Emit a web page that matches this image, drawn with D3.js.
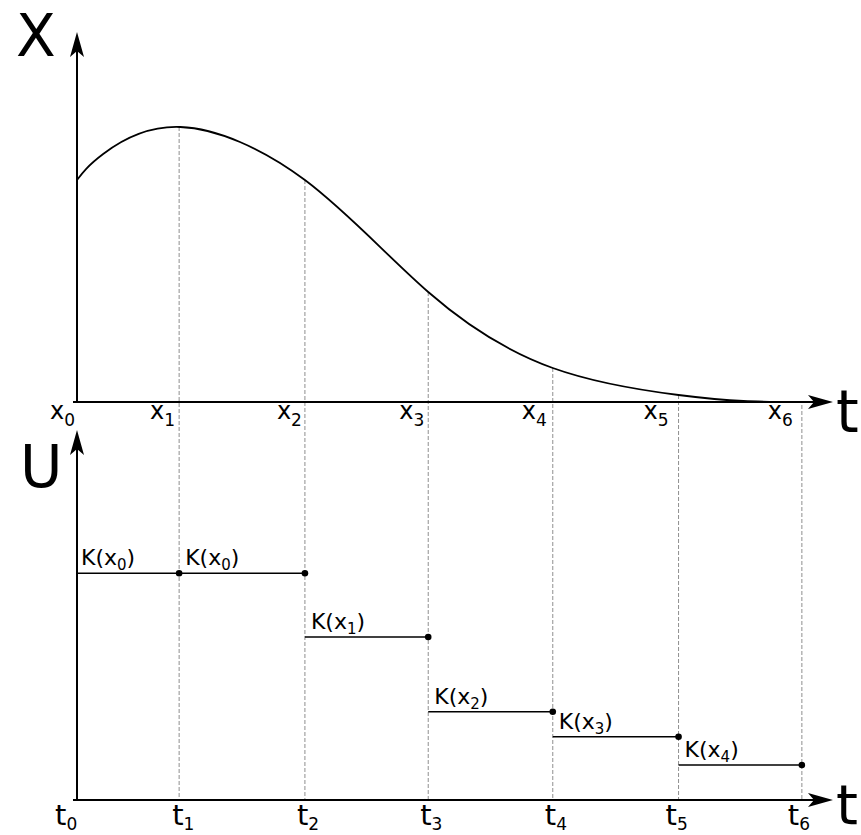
<!DOCTYPE html>
<html>
<head>
<meta charset="utf-8">
<script src="https://cdn.jsdelivr.net/npm/d3@7/dist/d3.min.js"></script>
<style>
  html, body { margin: 0; padding: 0; background: #fff; }
  svg { display: block; }
  text { font-family: "DejaVu Sans", sans-serif; fill: #000; }
</style>
</head>
<body>
<svg id="chart" width="861" height="835"></svg>
<script>
// Sampling instants t0..t6 (time units)
const knotTimes = [0, 0.82, 1.83, 2.82, 3.82, 4.83, 5.82];
// State x(t) at each sampling instant
const knotStates = [2.22, 2.75, 2.22, 1.10, 0.34, 0.07, 0.0];
// Continuous state trajectory x(t), sampled
const curveTimes  = [0, 0.21, 0.83, 1.83, 2.82, 3.82, 4.83, 5.35, 5.78];
const curveStates = [2.22, 2.48, 2.75, 2.22, 1.10, 0.34, 0.07, 0.01, 0.0];
// Zero-order-hold control: held value on each interval [t_i, t_i+1]
const controlValues = [2.267, 2.267, 1.63, 0.883, 0.633, 0.35];
// Which state sample each control value is computed from
const controlSource = [0, 0, 1, 2, 3, 4];

const svg = d3.select("#chart");

const tScale = d3.scaleLinear().domain([0, 6.07]).range([77, 833]);
const xScale = d3.scaleLinear().domain([0, 3.7]).range([402, 32]);
const uScale = d3.scaleLinear().domain([0, 3.7]).range([800, 430]);

// Dashed guide lines from the trajectory down to the control axis
svg.append("g")
  .selectAll("line")
  .data(knotTimes.slice(1))
  .join("line")
  .attr("x1", d => tScale(d))
  .attr("x2", d => tScale(d))
  .attr("y1", (d, i) => xScale(knotStates[i + 1]) + (knotStates[i + 1] === 0 ? 3 : 0))
  .attr("y2", uScale(0))
  .attr("stroke", "#8f8f8f")
  .attr("stroke-width", 1)
  .attr("stroke-dasharray", "4,2");

// Arrowheads with tip at origin
const arrowUp = "M0,0 L7,25 L0,19 L-7,25 Z";
const arrowRight = "M0,0 L-25,-7 L-19,0 L-25,7 Z";

function drawAxes(yScale, topY) {
  const g = svg.append("g");
  const x0 = tScale(0), y0 = yScale(0);
  const xEnd = tScale.range()[1];
  g.append("line")
    .attr("x1", x0).attr("x2", x0)
    .attr("y1", y0).attr("y2", topY + 10)
    .attr("stroke", "#000").attr("stroke-width", 2);
  g.append("line")
    .attr("x1", x0 - 4).attr("x2", xEnd - 10)
    .attr("y1", y0).attr("y2", y0)
    .attr("stroke", "#000").attr("stroke-width", 2);
  g.append("path").attr("d", arrowUp)
    .attr("transform", `translate(${x0},${topY})`).attr("fill", "#000");
  g.append("path").attr("d", arrowRight)
    .attr("transform", `translate(${xEnd},${y0})`).attr("fill", "#000");
}

drawAxes(xScale, xScale.range()[1]);
drawAxes(uScale, uScale.range()[1]);

// State trajectory
const line = d3.line()
  .x(d => tScale(d[0]))
  .y(d => xScale(Math.max(d[1], 0)))
  .curve(d3.curveNatural);

svg.append("path")
  .datum(curveTimes.map((t, i) => [t, curveStates[i]]))
  .attr("d", line)
  .attr("fill", "none")
  .attr("stroke", "#000")
  .attr("stroke-width", 1.8);

// Held control segments
const segs = controlValues.map((v, i) => ({
  t0: knotTimes[i], t1: knotTimes[i + 1], v, src: controlSource[i]
}));

svg.append("g")
  .selectAll("line")
  .data(segs)
  .join("line")
  .attr("x1", d => tScale(d.t0))
  .attr("x2", d => tScale(d.t1))
  .attr("y1", d => uScale(d.v))
  .attr("y2", d => uScale(d.v))
  .attr("stroke", "#000")
  .attr("stroke-width", 1.6);

svg.append("g")
  .selectAll("circle")
  .data(segs)
  .join("circle")
  .attr("cx", d => tScale(d.t1))
  .attr("cy", d => uScale(d.v))
  .attr("r", 3.3)
  .attr("fill", "#000");

// K(x_i) labels above each segment
const kLabels = svg.append("g")
  .selectAll("text")
  .data(segs)
  .join("text")
  .attr("x", (d, i) => tScale(d.t0) + (i === 0 ? 4 : 6))
  .attr("y", d => uScale(d.v) - 8)
  .attr("font-size", 22);
kLabels.append("tspan").text("K(x");
kLabels.append("tspan").attr("font-size", 15).attr("dy", 5).text(d => d.src);
kLabels.append("tspan").attr("dy", -5).text(")");

// Sample labels x_i under the state axis (right-aligned to the guide lines)
const xNudge = [-2, -4, -3, -4, -6, -10, -9];
const xl = svg.append("g")
  .selectAll("text")
  .data(knotTimes)
  .join("text")
  .attr("x", (d, i) => tScale(d) + xNudge[i])
  .attr("y", 419)
  .attr("text-anchor", "end")
  .attr("font-size", 24);
xl.append("tspan").text("x");
xl.append("tspan").attr("font-size", 17).attr("dy", 7).text((d, i) => i);

// Time labels t_i under the control axis
const tNudge = [-22, -7, -8, -8, -8, -13, -14];
const tl = svg.append("g")
  .selectAll("text")
  .data(knotTimes)
  .join("text")
  .attr("x", (d, i) => tScale(d) + tNudge[i])
  .attr("y", 825)
  .attr("font-size", 29);
tl.append("tspan").text("t");
tl.append("tspan").attr("font-size", 17).attr("dy", 5).text((d, i) => i);

// Axis names
svg.append("text").attr("x", 16).attr("y", 56).attr("font-size", 58).text("X");
svg.append("text").attr("x", 20).attr("y", 487).attr("font-size", 58).text("U");
svg.append("text").attr("x", 836).attr("y", 432).attr("font-size", 58).text("t");
svg.append("text").attr("x", 836).attr("y", 824).attr("font-size", 56).text("t");
</script>
</body>
</html>
